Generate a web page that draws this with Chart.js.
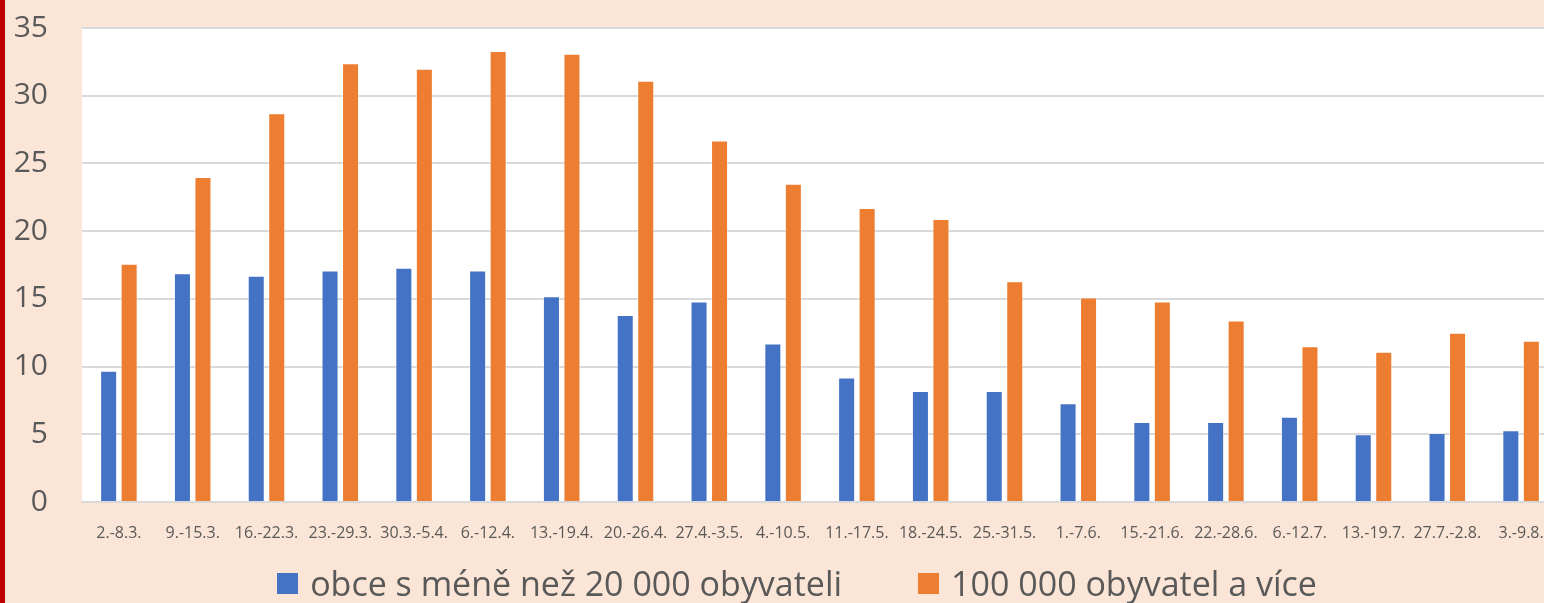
<!DOCTYPE html>
<html>
<head>
<meta charset="utf-8">
<script src="https://cdn.jsdelivr.net/npm/chart.js@4"></script>
<style>
  html, body { margin: 0; padding: 0; overflow: hidden; background: #fbe5d6; }
  #wrap { position: relative; width: 1594px; height: 603px; }
  #chart { position: absolute; left: 0; top: 0; }
  #redbar { position: absolute; left: 0; top: 0; width: 5px; height: 603px; background: #c00000; }
  #legend { position: absolute; left: 0; width: 1594px; top: 561px; display: flex; justify-content: center;
            font-family: "Open Sans", sans-serif; font-size: 34px; color: #595959; line-height: 44px; }
  .item { display: flex; align-items: center; margin: 0 38px; }
  .box { width: 21px; height: 21px; margin-right: 12px; }
</style>
</head>
<body>
<div id="wrap">
  <canvas id="chart" width="1594" height="603"></canvas>
  <div id="legend"></div>
  <div id="redbar"></div>
</div>
<script>
const weeks = ['2.-8.3.', '9.-15.3.', '16.-22.3.', '23.-29.3.', '30.3.-5.4.', '6.-12.4.', '13.-19.4.', '20.-26.4.',
  '27.4.-3.5.', '4.-10.5.', '11.-17.5.', '18.-24.5.', '25.-31.5.', '1.-7.6.', '15.-21.6.', '22.-28.6.',
  '6.-12.7.', '13.-19.7.', '27.7.-2.8.', '3.-9.8.'];
const smallTowns = [9.7, 16.9, 16.7, 17.1, 17.3, 17.1, 15.2, 13.8, 14.8, 11.7, 9.2, 8.2, 8.2, 7.3, 5.9, 5.9, 6.3, 5.0, 5.1, 5.3];
const bigCities = [17.6, 24.0, 28.7, 32.4, 32.0, 33.3, 33.1, 31.1, 26.7, 23.5, 21.7, 20.9, 16.3, 15.1, 14.8, 13.4, 11.5, 11.1, 12.5, 11.9];
const seriesNames = ['obce s méně než 20 000 obyvateli', '100 000 obyvatel a více'];
const seriesColors = ['#4472c4', '#ed7d31'];

const plotBg = {
  id: 'plotBg',
  beforeDraw(chart) {
    const { ctx, chartArea: a } = chart;
    ctx.save();
    ctx.fillStyle = '#ffffff';
    ctx.fillRect(a.left, a.top, a.right - a.left, a.bottom - a.top);
    ctx.restore();
  }
};

const chart = new Chart(document.getElementById('chart'), {
  type: 'bar',
  data: {
    labels: weeks,
    datasets: [smallTowns, bigCities].map((d, i) => ({
      label: seriesNames[i],
      data: d,
      backgroundColor: seriesColors[i],
      borderColor: 'rgba(255,255,255,0.45)',
      borderWidth: 1,
      categoryPercentage: 0.556,
      barPercentage: 0.83
    }))
  },
  options: {
    responsive: false,
    animation: false,
    layout: { padding: { left: 0, right: 36, top: 28, bottom: 0 } },
    plugins: { legend: { display: false }, tooltip: { enabled: false } },
    scales: {
      x: {
        grid: { display: false },
        border: { display: true, color: '#d9d9d9', width: 2 },
        ticks: { color: '#595959', font: { family: 'Open Sans', size: 16 }, padding: 14, maxRotation: 0, autoSkip: false },
        afterFit(s) { s.height = 101; }
      },
      y: {
        min: 0, max: 35,
        // transparent tick marks keep the labels away from the plot without extra top padding
        grid: { color: '#d9d9d9', lineWidth: 2, drawTicks: true, tickLength: 34, tickColor: 'transparent' },
        border: { display: false },
        ticks: { stepSize: 5, color: '#595959', font: { family: 'Open Sans', size: 30 }, padding: 0 },
        afterFit(s) { s.width = 82; }
      }
    }
  },
  plugins: [plotBg]
});

const legend = document.getElementById('legend');
seriesNames.forEach((name, i) => {
  legend.innerHTML += `<div class="item"><span class="box" style="background:${seriesColors[i]}"></span>${name}</div>`;
});
</script>
</body>
</html>
